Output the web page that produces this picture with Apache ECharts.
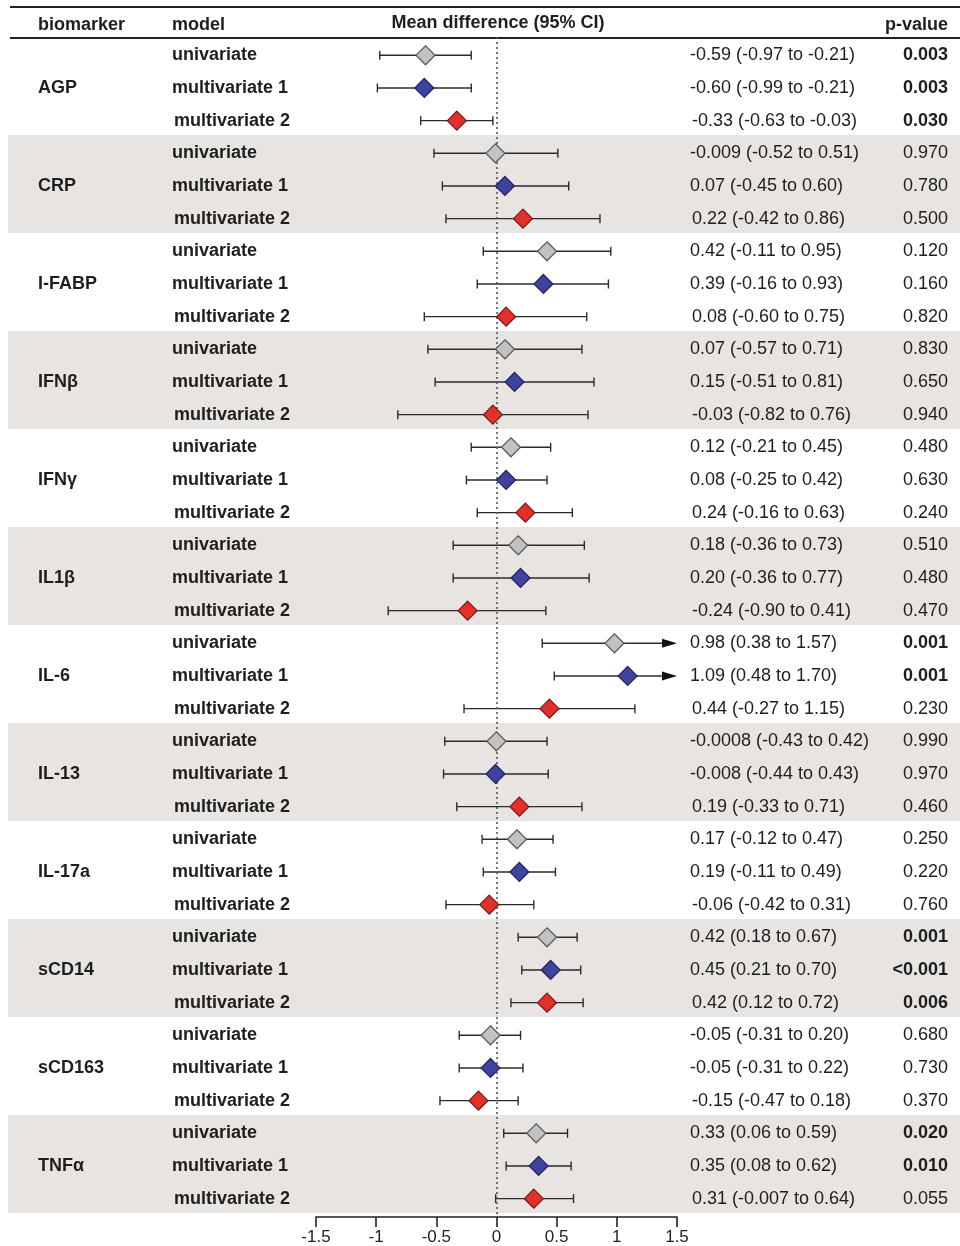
<!DOCTYPE html>
<html>
<head>
<meta charset="utf-8">
<script src="https://cdn.jsdelivr.net/npm/echarts@6/dist/echarts.min.js"></script>
<style>
html,body{margin:0;padding:0;background:#fff;}
#chart{width:960px;height:1246px;}
</style>
</head>
<body>
<div id="chart"></div>
<script>
// ---- data ----
const biomarkers = ['AGP','CRP','I-FABP','IFNβ','IFNγ','IL1β','IL-6','IL-13','IL-17a','sCD14','sCD163','TNFα'];
const models = ['univariate','multivariate 1','multivariate 2'];
const xTicks = [-1.5,-1,-0.5,0,0.5,1,1.5];

const uniEst = ['-0.59','-0.009','0.42','0.07','0.12','0.18','0.98','-0.0008','0.17','0.42','-0.05','0.33'];
const uniLo  = ['-0.97','-0.52','-0.11','-0.57','-0.21','-0.36','0.38','-0.43','-0.12','0.18','-0.31','0.06'];
const uniHi  = ['-0.21','0.51','0.95','0.71','0.45','0.73','1.57','0.42','0.47','0.67','0.20','0.59'];
const uniP   = ['0.003','0.970','0.120','0.830','0.480','0.510','0.001','0.990','0.250','0.001','0.680','0.020'];

const m1Est = ['-0.60','0.07','0.39','0.15','0.08','0.20','1.09','-0.008','0.19','0.45','-0.05','0.35'];
const m1Lo  = ['-0.99','-0.45','-0.16','-0.51','-0.25','-0.36','0.48','-0.44','-0.11','0.21','-0.31','0.08'];
const m1Hi  = ['-0.21','0.60','0.93','0.81','0.42','0.77','1.70','0.43','0.49','0.70','0.22','0.62'];
const m1P   = ['0.003','0.780','0.160','0.650','0.630','0.480','0.001','0.970','0.220','<0.001','0.730','0.010'];

const m2Est = ['-0.33','0.22','0.08','-0.03','0.24','-0.24','0.44','0.19','-0.06','0.42','-0.15','0.31'];
const m2Lo  = ['-0.63','-0.42','-0.60','-0.82','-0.16','-0.90','-0.27','-0.33','-0.42','0.12','-0.47','-0.007'];
const m2Hi  = ['-0.03','0.86','0.75','0.76','0.63','0.41','1.15','0.71','0.31','0.72','0.18','0.64'];
const m2P   = ['0.030','0.500','0.820','0.940','0.240','0.470','0.230','0.460','0.760','0.006','0.370','0.055'];

// ---- build ----
const FONT = '"Liberation Sans", Arial, sans-serif';
const TXT = '#1e1e1e';
const X_MIN = -1.5, X_MAX = 1.5;
const NROWS = biomarkers.length * models.length;
const ROW_C = 0.56; // vertical centre of a row inside its band
const sets = [
  {est: uniEst, lo: uniLo, hi: uniHi, p: uniP, fill: '#c2c2c2', border: '#5a5a5a'},
  {est: m1Est, lo: m1Lo, hi: m1Hi, p: m1P, fill: '#3e43a0', border: '#23255a'},
  {est: m2Est, lo: m2Lo, hi: m2Hi, p: m2P, fill: '#e3302a', border: '#6e1a16'}
];

const rows = [];      // text rows
const bars = [];      // error bars
sets.forEach((s, m) => {
  biomarkers.forEach((b, i) => {
    const r = i * 3 + m;
    const hi = parseFloat(s.hi[i]);
    const pv = parseFloat(s.p[i].replace('<', ''));
    rows.push({r, m, ci: s.est[i] + ' (' + s.lo[i] + ' to ' + s.hi[i] + ')', p: s.p[i], sig: pv < 0.05});
    bars.push([parseFloat(s.lo[i]), Math.min(hi, X_MAX), r, hi > X_MAX ? 1 : 0]);
  });
});
const shaded = biomarkers.map((b, i) => i).filter(i => i % 2 === 1);

const chart = echarts.init(document.getElementById('chart'), null, {renderer: 'canvas'});

const GRID_TOP = 37, GRID_BOTTOM_SHADE = 33, AXIS_BOTTOM = 29;
const pxPerRow = (1246 - GRID_TOP - GRID_BOTTOM_SHADE) / NROWS;
const y1Max = NROWS + (GRID_BOTTOM_SHADE - AXIS_BOTTOM) / pxPerRow;

const option = {
  backgroundColor: '#ffffff',
  animation: false,
  grid: [
    {left: 0, right: 0, top: GRID_TOP, bottom: GRID_BOTTOM_SHADE},
    {left: 316, right: 283, top: GRID_TOP, bottom: AXIS_BOTTOM}
  ],
  xAxis: [
    {gridIndex: 0, type: 'value', min: 0, max: 960, show: false},
    {gridIndex: 1, type: 'value', min: X_MIN, max: X_MAX, interval: 0.5,
     splitLine: {show: false},
     axisLine: {show: true, onZero: false, lineStyle: {color: '#222', width: 1.6}},
     axisTick: {show: true, inside: false, length: 10, lineStyle: {color: '#222', width: 1.6}},
     axisLabel: {color: '#222', fontSize: 17, fontFamily: FONT, margin: 12}}
  ],
  yAxis: [
    {gridIndex: 0, type: 'value', min: 0, max: NROWS, inverse: true, show: false},
    {gridIndex: 1, type: 'value', min: 0, max: y1Max, inverse: true, show: false}
  ],
  graphic: [
    {type: 'line', shape: {x1: 10, y1: 7, x2: 960, y2: 7}, style: {stroke: '#222', lineWidth: 2}},
    {type: 'line', shape: {x1: 10, y1: 38, x2: 960, y2: 38}, style: {stroke: '#222', lineWidth: 2}},
    {type: 'text', x: 38, y: 25, style: {text: 'biomarker', font: 'bold 18px ' + FONT, fill: TXT, textAlign: 'left', textVerticalAlign: 'middle'}},
    {type: 'text', x: 172, y: 25, style: {text: 'model', font: 'bold 18px ' + FONT, fill: TXT, textAlign: 'left', textVerticalAlign: 'middle'}},
    {type: 'text', x: 498, y: 23, style: {text: 'Mean difference (95% CI)', font: 'bold 18px ' + FONT, fill: TXT, textAlign: 'center', textVerticalAlign: 'middle'}},
    {type: 'text', x: 948, y: 25, style: {text: 'p-value', font: 'bold 18px ' + FONT, fill: TXT, textAlign: 'right', textVerticalAlign: 'middle'}}
  ],
  series: [
    // shaded blocks
    {
      type: 'custom', xAxisIndex: 0, yAxisIndex: 0, z: 0, silent: true,
      data: shaded.map(i => [i]),
      renderItem: function (params, api) {
        const b = api.value(0);
        const p1 = api.coord([8, b * 3]);
        const p2 = api.coord([960, b * 3 + 3]);
        return {type: 'rect', shape: {x: p1[0], y: p1[1], width: p2[0] - p1[0], height: p2[1] - p1[1]},
                style: {fill: '#e7e4e1'}};
      }
    },
    // biomarker labels
    {
      type: 'custom', xAxisIndex: 0, yAxisIndex: 0, z: 5, silent: true,
      data: biomarkers.map((b, i) => [i]),
      renderItem: function (params, api) {
        const i = api.value(0);
        const p = api.coord([38, i * 3 + 1 + ROW_C]);
        return {type: 'text', x: p[0], y: p[1],
                style: {text: biomarkers[i], font: 'bold 18px ' + FONT, fill: TXT,
                        textAlign: 'left', textVerticalAlign: 'middle', align: 'left', verticalAlign: 'middle'}};
      }
    },
    // model / CI / p-value columns
    {
      type: 'custom', xAxisIndex: 0, yAxisIndex: 0, z: 5, silent: true,
      data: rows.map((d, k) => [d.r, k]),
      renderItem: function (params, api) {
        const d = rows[api.value(1)];
        const shift = d.m === 2 ? 2 : 0;
        const y = api.coord([0, d.r + ROW_C])[1];
        const mk = (x, text, font, align) => ({type: 'text', x: x, y: y,
          style: {text: text, font: font, fill: TXT, textAlign: align, textVerticalAlign: 'middle', align: align, verticalAlign: 'middle'}});
        return {type: 'group', children: [
          mk(api.coord([172 + shift, 0])[0], models[d.m], 'bold 18px ' + FONT, 'left'),
          mk(api.coord([690 + shift, 0])[0], d.ci, '18px ' + FONT, 'left'),
          mk(api.coord([948, 0])[0], d.p, (d.sig ? 'bold ' : '') + '18px ' + FONT, 'right')
        ]};
      }
    },
    // error bars
    {
      type: 'custom', xAxisIndex: 1, yAxisIndex: 1, z: 3, silent: true,
      data: bars,
      encode: {x: [0, 1], y: 2},
      renderItem: function (params, api) {
        const y = api.value(2) + ROW_C;
        const p1 = api.coord([api.value(0), y]);
        const p2 = api.coord([api.value(1), y]);
        const arrow = api.value(3) === 1;
        const st = {stroke: '#2b2b2b', lineWidth: 1.4};
        const ch = [];
        ch.push({type: 'line', shape: {x1: p1[0], y1: p1[1], x2: arrow ? p2[0] - 12 : p2[0], y2: p2[1]}, style: st});
        ch.push({type: 'line', shape: {x1: p1[0], y1: p1[1] - 4.5, x2: p1[0], y2: p1[1] + 4.5}, style: st});
        if (arrow) {
          ch.push({type: 'polygon', shape: {points: [[p2[0], p2[1]], [p2[0] - 15, p2[1] - 4.5], [p2[0] - 15, p2[1] + 4.5]]},
                   style: {fill: '#111'}});
        } else {
          ch.push({type: 'line', shape: {x1: p2[0], y1: p2[1] - 4.5, x2: p2[0], y2: p2[1] + 4.5}, style: st});
        }
        return {type: 'group', children: ch};
      }
    },
    // zero reference line
    {
      type: 'scatter', xAxisIndex: 1, yAxisIndex: 1, data: [], silent: true,
      markLine: {
        silent: true, symbol: ['none', 'none'], label: {show: false},
        lineStyle: {type: [2, 3], color: '#555', width: 1.6},
        data: [[{coord: [0, 0]}, {coord: [0, y1Max]}]]
      }
    }
  ].concat(sets.map((s, m) => ({
    type: 'scatter', name: models[m], xAxisIndex: 1, yAxisIndex: 1, z: 6, silent: true,
    symbol: 'diamond', symbolSize: [19, 19],
    itemStyle: {color: s.fill, borderColor: s.border, borderWidth: 1.2, opacity: 1},
    data: biomarkers.map((b, i) => [parseFloat(s.est[i]), i * 3 + m + ROW_C])
  })))
};

chart.setOption(option);
</script>
</body>
</html>
